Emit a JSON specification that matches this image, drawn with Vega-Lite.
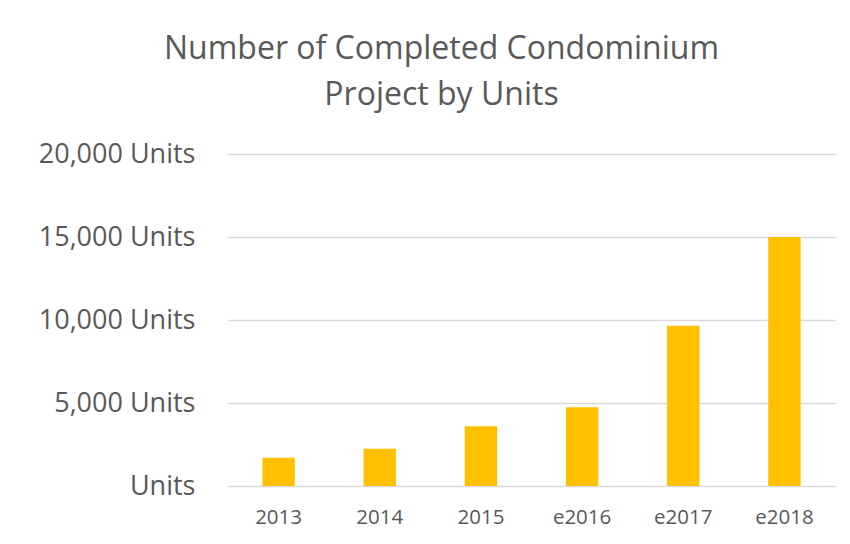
{
  "$schema": "https://vega.github.io/schema/vega-lite/v6.json",
  "autosize": "none",
  "width": 607,
  "height": 332,
  "padding": {"left": 228, "top": 154, "right": 15, "bottom": 58},
  "background": "white",
  "title": {
    "text": ["Number of Completed Condominium", "Project by Units"],
    "fontSize": 32,
    "font": "Open Sans",
    "fontWeight": "normal",
    "color": "#595959",
    "lineHeight": 46,
    "anchor": "middle",
    "dx": -90,
    "offset": 28
  },
  "data": {
    "values": [
      {"year": "2013", "units": 1700},
      {"year": "2014", "units": 2250},
      {"year": "2015", "units": 3600},
      {"year": "e2016", "units": 4750},
      {"year": "e2017", "units": 9650},
      {"year": "e2018", "units": 15000}
    ]
  },
  "mark": {"type": "bar", "color": "#FFC000"},
  "encoding": {
    "x": {
      "field": "year",
      "type": "nominal",
      "sort": null,
      "scale": {"paddingInner": 0.68, "paddingOuter": 0.34},
      "axis": {
        "title": null,
        "labelAngle": 0,
        "labelFont": "Open Sans",
        "labelFontSize": 20.5,
        "labelColor": "#595959",
        "labelPadding": 21,
        "ticks": false,
        "domain": false
      }
    },
    "y": {
      "field": "units",
      "type": "quantitative",
      "scale": {"domain": [0, 20000], "nice": false},
      "axis": {
        "title": null,
        "values": [0, 5000, 10000, 15000, 20000],
        "labelExpr": "datum.value == 0 ? 'Units' : format(datum.value, ',') + ' Units'",
        "labelFont": "Open Sans",
        "labelFontSize": 27,
        "labelColor": "#595959",
        "labelPadding": 33,
        "ticks": false,
        "domain": false,
        "gridColor": "#d9d9d9",
        "gridWidth": 1.5
      }
    }
  },
  "config": {"view": {"stroke": null}}
}
